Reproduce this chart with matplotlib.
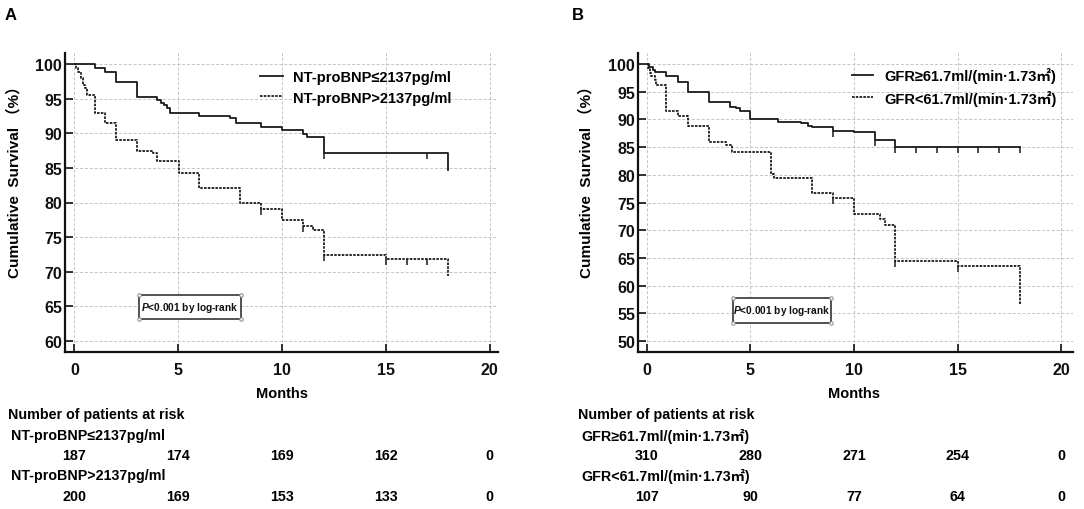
import numpy as np
import matplotlib
matplotlib.use('Agg')
import matplotlib.pyplot as plt
from matplotlib.patches import Rectangle
from matplotlib.transforms import blended_transform_factory

plt.rcParams['font.family'] = ['Liberation Sans', 'Noto Sans CJK SC', 'DejaVu Sans']
plt.rcParams['font.weight'] = 'bold'
plt.rcParams['mathtext.fontset'] = 'custom'
plt.rcParams['mathtext.it'] = 'Liberation Sans:italic:bold'
plt.rcParams['mathtext.rm'] = 'Liberation Sans:bold'

# ---------------- data ----------------
month_ticks = [0, 5, 10, 15, 20]

# Panel A : NT-proBNP
a_labels = ['NT-proBNP≤2137pg/ml', 'NT-proBNP>2137pg/ml']
a_low_t = [0, 1.0, 1.5, 2.0, 3.0, 4.0, 4.15, 4.3, 4.45, 4.6, 6.0, 7.5, 7.8, 9.0, 10.0, 11.0, 11.2, 12.0, 18.0]
a_low_s = [100, 99.4, 98.9, 97.4, 95.2, 94.8, 94.4, 94.1, 93.6, 93.0, 92.5, 92.2, 91.5, 90.9, 90.5, 89.95, 89.5, 87.1, 84.7]
a_low_cens = [12.0, 17.0]
a_high_t = [0, 0.1, 0.2, 0.3, 0.4, 0.5, 0.6, 1.0, 1.5, 2.0, 3.0, 3.8, 4.0, 5.05, 6.0, 8.0, 9.0, 10.0, 11.0, 11.5, 12.0, 15.0, 18.0]
a_high_s = [100, 99.5, 98.8, 98.0, 97.0, 96.5, 95.5, 93.0, 91.5, 89.0, 87.5, 87.1, 86.0, 84.2, 82.1, 80.0, 79.0, 77.5, 76.6, 76.0, 72.4, 71.9, 69.4]
a_high_cens = [9.0, 11.0, 12.0, 15.0, 16.0, 17.0]
a_risk_low = [187, 174, 169, 162, 0]
a_risk_high = [200, 169, 153, 133, 0]

# Panel B : GFR
b_labels = ['GFR≥61.7ml/(min·1.73㎡)', 'GFR<61.7ml/(min·1.73㎡)']
b_hi_t = [0, 0.1, 0.3, 0.4, 0.93, 1.5, 2.0, 3.0, 4.0, 4.3, 4.5, 5.0, 6.35, 7.45, 7.8, 7.95, 9.0, 10.0, 11.0, 12.0, 18.0]
b_hi_s = [100, 99.5, 99.0, 98.5, 97.9, 96.8, 94.9, 93.2, 92.3, 92.0, 91.6, 90.1, 89.5, 89.3, 88.9, 88.6, 88.0, 87.7, 86.3, 85.1, 85.1]
b_hi_cens = [9.0, 11.0, 12.0, 13.0, 14.0, 15.0, 16.0, 17.0, 18.0]
b_lo_t = [0, 0.05, 0.13, 0.2, 0.37, 0.45, 0.93, 1.5, 2.0, 3.0, 3.8, 4.1, 6.0, 6.15, 7.95, 9.0, 10.0, 11.25, 11.5, 12.0, 15.0, 18.0]
b_lo_s = [100, 99.3, 98.4, 97.8, 97.1, 96.3, 91.6, 90.7, 88.8, 86.0, 85.4, 84.1, 80.2, 79.5, 76.7, 75.8, 72.9, 72.0, 71.0, 64.4, 63.5, 56.4]
b_lo_cens = [9.0, 12.0, 15.0]
b_risk_hi = [310, 280, 271, 254, 0]
b_risk_lo = [107, 90, 77, 64, 0]

W, H = 1084, 510
fig = plt.figure(figsize=(W / 100, H / 100), dpi=100)

def fx(px):
    return px / W

def fy(py):
    return 1 - py / H

LINE_COL = '#1a1a1a'
SOLID = dict(color=LINE_COL, lw=1.3, linestyle='-')
DASH = dict(color=LINE_COL, lw=1.3, linestyle=(0, (1.4, 0.7)))


def step_value(t, s, x):
    i = np.searchsorted(np.asarray(t), x, side='right') - 1
    return np.asarray(s)[i]


def panel(rect, xlim, ylim, yticks, curves, labels, legend_pos, box, letter, letter_px,
          ylabel_px, risk_rows, risk_text_px):
    ax = fig.add_axes(rect)
    l, b, w, h = rect
    px_per_unit = (h * H) / (ylim[1] - ylim[0])
    tick_len = 6.0 / px_per_unit
    handles = []
    for (t, s, cens, style), lab in zip(curves, labels):
        ln, = ax.step(t, s, where='post', label=lab, **style)
        handles.append(ln)
        cy = np.array([step_value(t, s, c) for c in cens])
        ax.vlines(cens, cy - tick_len, cy, color=LINE_COL, lw=1.1)
    ax.set_xlim(*xlim)
    ax.set_ylim(*ylim)
    ax.set_xticks(month_ticks)
    ax.set_yticks(yticks)
    ax.grid(True, color='#c4c4c4', linestyle=(0, (3, 2)), lw=0.7)
    ax.set_axisbelow(True)
    for sp in ['top', 'right']:
        ax.spines[sp].set_visible(False)
    for sp in ['left', 'bottom']:
        ax.spines[sp].set_linewidth(1.6)
        ax.spines[sp].set_color('#111111')
    ax.tick_params(axis='both', direction='in', length=6, width=1.2, labelsize=11.5,
                   colors='#111111')
    ax.tick_params(axis='y', pad=2)
    ax.tick_params(axis='x', pad=7.5)
    for lbl in ax.get_xticklabels() + ax.get_yticklabels():
        lbl.set_fontweight('bold')

    # legend
    ax.legend(handles=handles, loc='center left',
              bbox_to_anchor=(fx(legend_pos[0]), fy(legend_pos[1])),
              bbox_transform=fig.transFigure, frameon=False,
              handlelength=legend_pos[2], handletextpad=legend_pos[3],
              labelspacing=0.42, borderpad=0, borderaxespad=0,
              prop=dict(size=10.5, weight='bold'))

    # p-value box
    bx0, bx1, by0, by1 = box
    ax0 = (bx0 - l * W) / (w * W)
    ax1 = (bx1 - l * W) / (w * W)
    ay_top = ((1 - b) * H - by0) / (h * H)
    ay_bot = ((1 - b) * H - by1) / (h * H)
    ax.add_patch(Rectangle((ax0, ay_bot), ax1 - ax0, ay_top - ay_bot,
                           transform=ax.transAxes, fc='white', ec='#444444', lw=1.3,
                           zorder=5))
    ax.plot([ax0, ax1, ax0, ax1], [ay_bot, ay_bot, ay_top, ay_top], 'o',
            ms=2.5, mfc='white', mec='#888888', mew=0.7, transform=ax.transAxes,
            zorder=6, clip_on=False)
    ax.text((ax0 + ax1) / 2, (ay_bot + ay_top) / 2, r'$P$<0.001 by log-rank',
            transform=ax.transAxes, ha='center', va='center', fontsize=7.3,
            fontweight='bold', color='#111111', zorder=7)

    # panel letter and y label
    fig.text(fx(letter_px[0]), fy(letter_px[1]), letter, fontsize=12,
             fontweight='bold', ha='left', va='center')
    fig.text(fx(ylabel_px[0]), fy(ylabel_px[1]), 'Cumulative  Survival （%）',
             rotation=90, fontsize=11, fontweight='bold', ha='center', va='center')

    # x label
    trx = blended_transform_factory(ax.transData, fig.transFigure)
    ax.text(10, fy(394), 'Months', transform=trx, ha='center', va='center',
            fontsize=10.5, fontweight='bold')

    # number at risk table
    fig.text(fx(risk_text_px[0]), fy(415), 'Number of patients at risk',
             fontsize=10.3, fontweight='bold', ha='left', va='center')
    row_label_y = [436, 476]
    row_num_y = [456, 497]
    for lab, nums, ly, ny in zip(labels, risk_rows, row_label_y, row_num_y):
        fig.text(fx(risk_text_px[1]), fy(ly), lab, fontsize=10.3,
                 fontweight='bold', ha='left', va='center')
        for t, n in zip(month_ticks, nums):
            ax.text(t, fy(ny), str(n), transform=trx, ha='center', va='center',
                    fontsize=10.3, fontweight='bold', clip_on=False)
    return ax


rectA = [fx(65), fy(353), fx(498) - fx(65), fy(54) - fy(353)]
rectB = [fx(638), fy(353), fx(1073) - fx(638), fy(54) - fy(353)]

panel(rectA, (-0.45, 20.4), (58.4, 101.6), list(range(60, 101, 5)),
      [(a_low_t, a_low_s, a_low_cens, SOLID), (a_high_t, a_high_s, a_high_cens, DASH)],
      a_labels, (260, 88.5, 1.6, 0.68), (139, 241, 296, 320), 'A', (5, 16), (14, 178),
      [a_risk_low, a_risk_high], (8, 11))

panel(rectB, (-0.43, 20.57), (48.0, 102.0), list(range(50, 101, 5)),
      [(b_hi_t, b_hi_s, b_hi_cens, SOLID), (b_lo_t, b_lo_s, b_lo_cens, DASH)],
      b_labels, (852, 87.5, 1.45, 0.8), (733, 831, 299, 324), 'B', (572, 16), (586, 178),
      [b_risk_hi, b_risk_lo], (578, 581))

fig.savefig('out.png', dpi=100)
